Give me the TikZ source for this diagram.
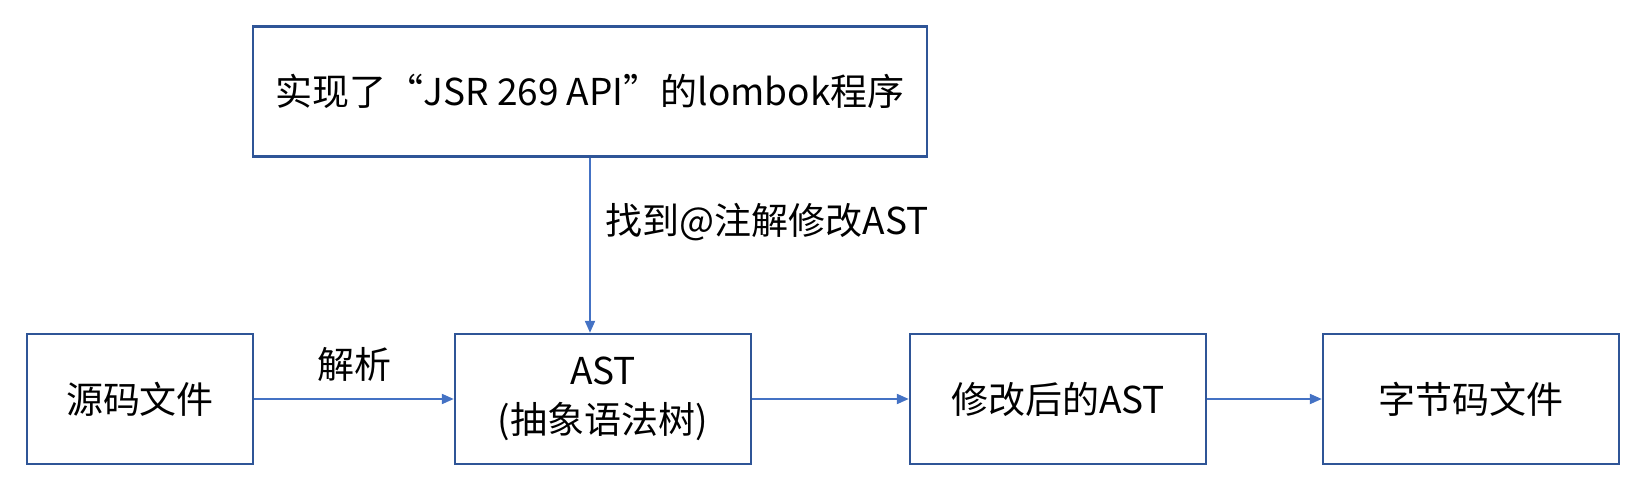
\documentclass[tikz,border=0pt]{standalone}
\usepackage{fontspec}
\setmainfont{Noto Sans CJK SC}
\usetikzlibrary{arrows.meta,positioning}
\definecolor{boxblue}{HTML}{2F5597}
\definecolor{lineblue}{HTML}{4472C4}

\begin{document}
\begin{tikzpicture}[node distance=231.5pt, auto]
        % Define block styles
        \tikzstyle{block} = [rectangle, draw=boxblue, line width=1.2pt, minimum width=148pt, minimum height=65pt, align=center, font=\fontsize{18.5}{24.5}\selectfont]
        \tikzstyle{line} = [draw=lineblue, line width=1pt, -{Triangle[length=6pt,width=5pt]}]
        \tikzstyle{edgetext} = [font=\fontsize{18.5}{24.5}\selectfont]

        \useasboundingbox (0,0) rectangle (823pt,-248pt);

        % Place nodes
        \node [block, minimum width=113pt] (source) at (70pt,-199.5pt) {源码文件};
        \node [block, right of=source] (ast) {AST\\(抽象语法树)};
        \node [block, right of=ast, node distance=227.5pt] (newast) {修改后的AST};
        \node [block, right of=newast, node distance=206.5pt] (bytecode) {字节码文件};
        \node [block, minimum width=337pt, above of=ast, node distance=153.75pt, xshift=-6.5pt] (lombok) {实现了“JSR 269 API”的lombok程序};

        % Draw edges
        \path [line] (source) -- node [edgetext, above=5pt] {解析} (ast);
        \path [line] (lombok.south) -- node [edgetext, right=4pt, pos=0.37] {找到@注解修改AST} (lombok.south |- ast.north);
        \path [line] (ast) -- (newast);
        \path [line] (newast) -- (bytecode);
    \end{tikzpicture}
\end{document}
